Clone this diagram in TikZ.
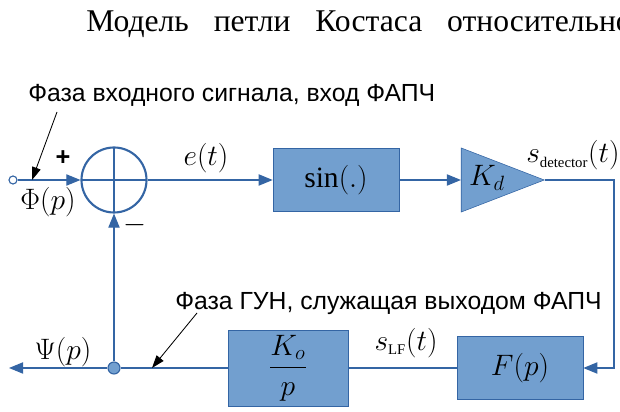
\RequirePackage{fix-cm}
\documentclass[tikz,border=0pt]{standalone}
\usepackage{fontspec}
\setmainfont{Liberation Serif}
\newfontfamily\sansru{Liberation Sans}
\usetikzlibrary{arrows.meta, positioning, calc, shapes.geometric}
\definecolor{lineblue}{HTML}{3465A4}
\definecolor{boxblue}{HTML}{729FCF}

\begin{document}
\begin{tikzpicture}[
    x=0.025cm, y=-0.025cm,
    block/.style={draw=lineblue, fill=boxblue, minimum width=3.15cm, minimum height=1.575cm, inner sep=0pt, font=\fontsize{21}{25}\selectfont},
    sig/.style={draw=lineblue, line width=0.8pt},
    sigarrow/.style={sig, -{Triangle[length=0.35cm, width=0.28cm]}},
    note/.style={font=\sansru\fontsize{17.6}{20}\selectfont, anchor=base west, inner sep=0pt},
    pointer/.style={draw=black, line width=0.6pt, -{Triangle[length=0.32cm, width=0.22cm]}},
    lbl/.style={font=\fontsize{21}{25}\selectfont, inner sep=0pt}
  ]
  \useasboundingbox (0,0) rectangle (620,412);

  % Heading
  \node[anchor=base west, inner sep=0pt, font=\fontsize{22.5}{27}\selectfont] (head) at (86,32)
    {Модель\hspace{17.7pt}петли\hspace{17.7pt}Костаса\hspace{17.7pt}относительно};

  % Top row
  \node[circle, draw=lineblue, fill=white, line width=0.8pt, minimum size=0.2cm, inner sep=0pt] (in) at (13,180) {};
  \node[circle, draw=lineblue, line width=1.5pt, minimum size=1.625cm, inner sep=0pt,
        path picture={\draw[lineblue, line width=1.5pt]
          (path picture bounding box.north) -- (path picture bounding box.south)
          (path picture bounding box.west) -- (path picture bounding box.east);}] (sum) at (114,180) {};
  \node[block] (sinbox) at (336,180) {$\sin(.)$};
  \node[isosceles triangle, isosceles triangle stretches, draw=lineblue, fill=boxblue,
        minimum width=1.6cm, minimum height=2.075cm, inner sep=0pt, anchor=apex] (kd) at (545,180) {};
  \node[lbl] (kdlabel) at (487,178) {$K_{d}$};
  \coordinate (turn) at (614,180);

  % Bottom row
  \node[block] (fbox) at (520,368) {$F(p)$};
  \node[block, minimum width=3cm, minimum height=1.9cm] (kobox) at (288,368) {$\displaystyle\frac{K_{o}}{p}$};
  \node[circle, draw=lineblue, fill=boxblue, line width=0.8pt, minimum size=0.3cm, inner sep=0pt] (dot) at (114,368) {};
  \coordinate (out) at (9,368);

  % Signal labels
  \node[font=\sansru\bfseries\fontsize{18}{20}\selectfont] (plus) at (63,158) {+};
  \node[font=\fontsize{21}{25}\selectfont] (minus) at (135,225) {$-$};
  \node[lbl] (phi) at (48,202) {$\Phi(p)$};
  \node[lbl] (err) at (206,158) {$e(t)$};
  \node[lbl, anchor=base west] (sdet) at (526,163) {$s_{\mathrm{\scriptscriptstyle detector}}(t)$};
  \node[lbl] (slf) at (406,343) {$s_{\mathrm{\scriptscriptstyle LF}}(t)$};
  \node[lbl] (psi) at (63,352) {$\Psi(p)$};

  % Connectors
  \draw[sigarrow] (in) -- (sum);
  \draw[sigarrow] (sum) -- (sinbox);
  \draw[sigarrow] (sinbox) -- (kd);
  \draw[sigarrow] (kd.apex) -- (turn) |- (fbox);
  \draw[sig] (fbox) -- (kobox);
  \draw[sig] (kobox) -- (dot);
  \draw[sigarrow] (dot) -- (sum);
  \draw[sigarrow] (dot) -- (out);

  % Annotations
  \node[note] (notein) at (28,102) {Фаза входного сигнала, вход ФАПЧ};
  \coordinate (notein-tail) at (57,112);
  \coordinate (notein-tip) at (32,180);
  \draw[pointer] (notein-tail) -- (notein-tip);

  \node[note] (noteout) at (175,310) {Фаза ГУН, служащая выходом ФАПЧ};
  \coordinate (noteout-tail) at (197,313);
  \coordinate (noteout-tip) at (152,368);
  \draw[pointer] (noteout-tail) -- (noteout-tip);
\end{tikzpicture}
\end{document}
